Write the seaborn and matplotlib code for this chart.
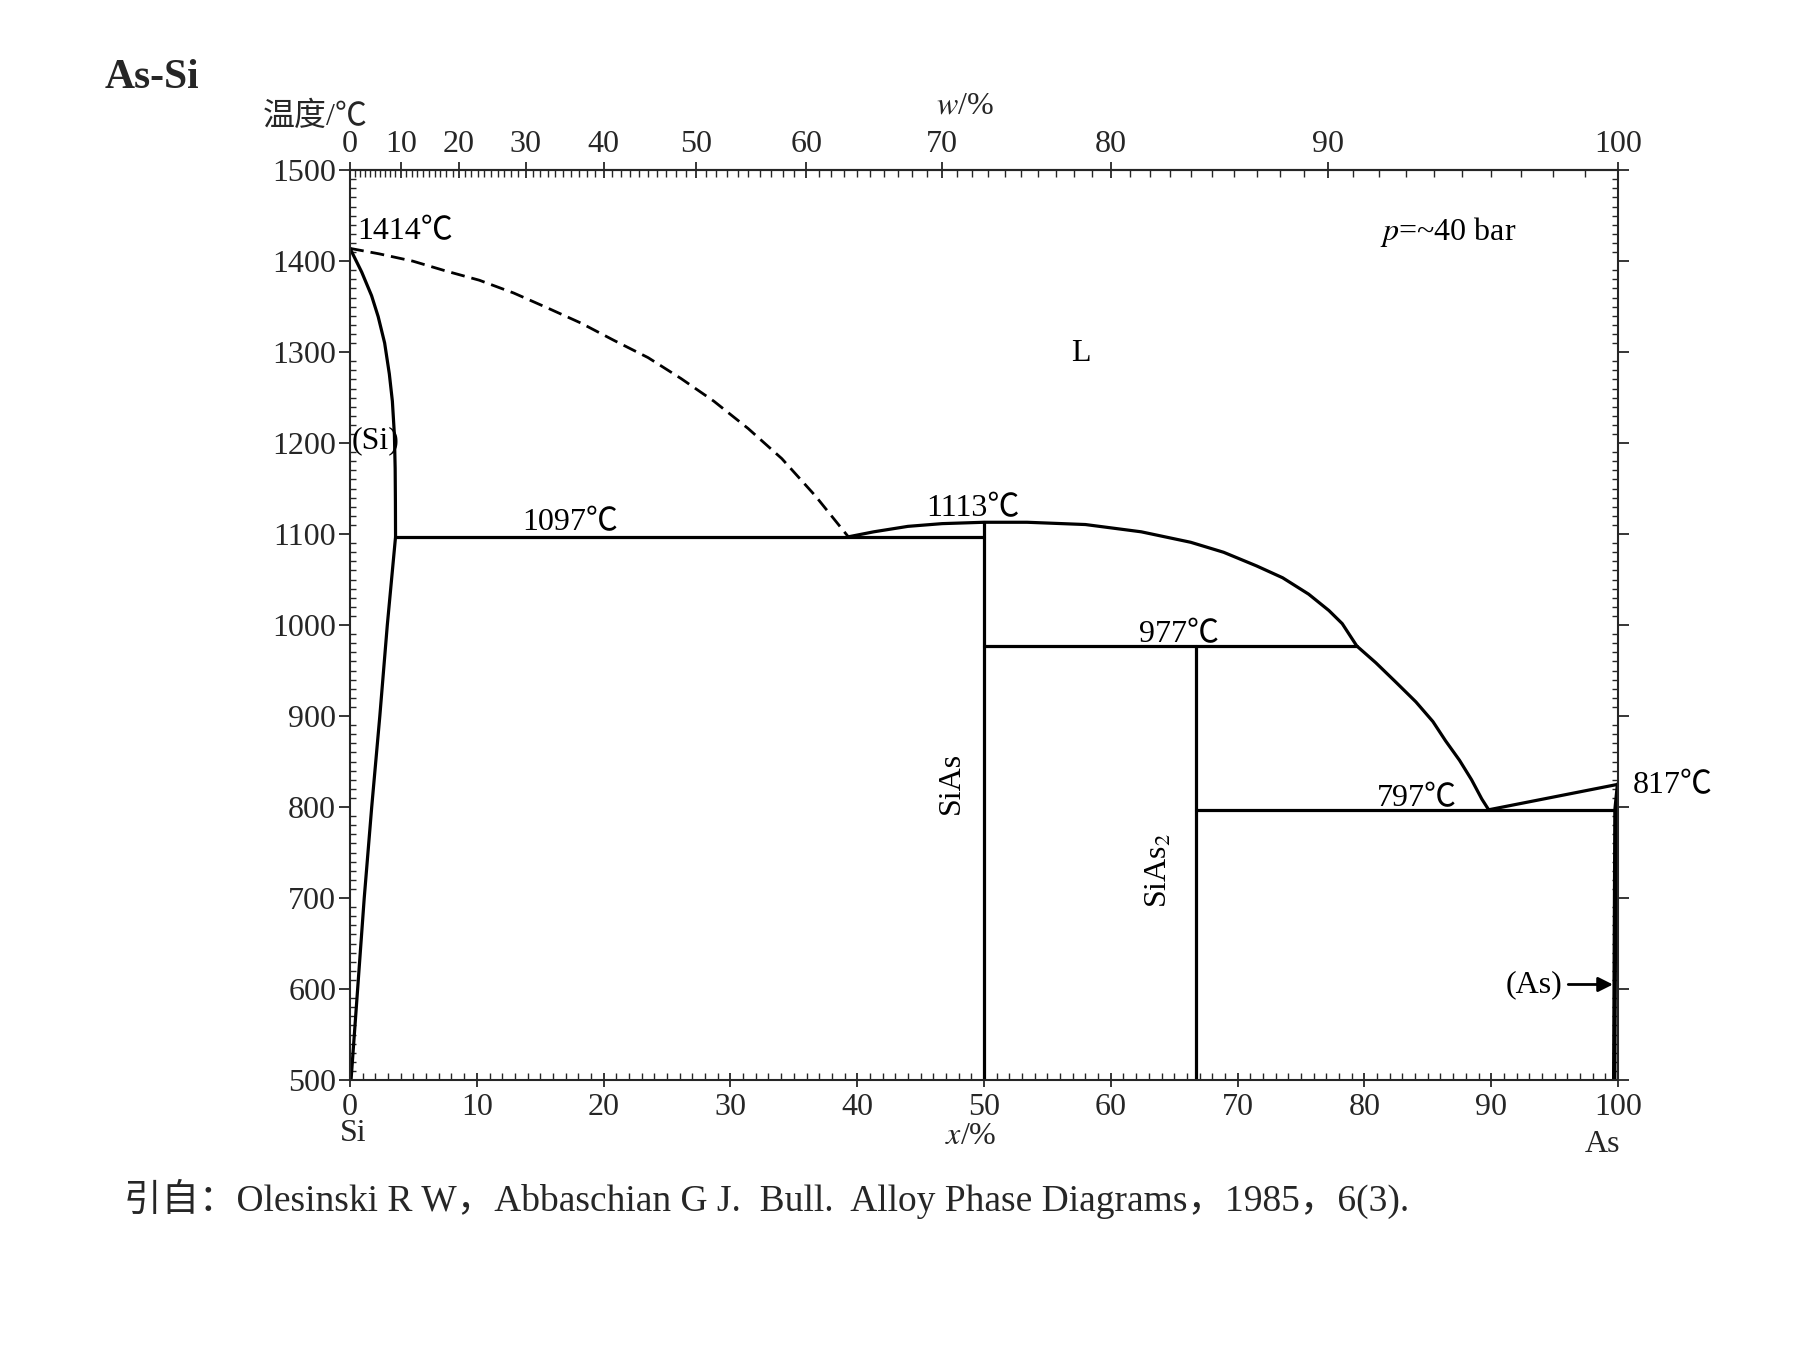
import numpy as np
import pandas as pd
import matplotlib
matplotlib.use('Agg')
import matplotlib.pyplot as plt
from matplotlib.ticker import MultipleLocator, FixedLocator
import seaborn as sns

# composition x = at.% As, temperature in deg C
si_solidus_x = [0, 0.92, 1.7, 2.22, 2.73, 3.1, 3.34, 3.5, 3.56, 3.58, 3.59]
si_solidus_t = [1414, 1388, 1362, 1339, 1310, 1276, 1246, 1209, 1172, 1135, 1097]
si_solvus_x = [3.59, 2.94, 2.35, 1.71, 1.12, 0.6, 0.08]
si_solvus_t = [1097, 1000, 900, 800, 700, 600, 500]
liq_dash_x = [0, 2.3, 4.95, 7.6, 10.2, 12.9, 15.5, 18.2, 20.8, 23.5, 26.1, 28.7, 31.4, 34.05,
              36.7, 39.3]
liq_dash_t = [1414, 1408, 1400, 1389, 1379, 1365, 1349, 1332, 1313, 1294, 1271, 1246, 1216, 1183,
              1142, 1097]
liq_x = [39.3, 41.3, 44.0, 46.7, 50, 53.4, 58.0, 62.4, 66.3, 68.9, 71.5, 73.55, 75.6, 77.2, 78.25,
         79.4, 80.9, 82.5, 84.06, 85.4, 86.4, 87.5, 88.45, 89.26, 89.8]
liq_t = [1097, 1102.5, 1108.5, 1111.5, 1113, 1113, 1110.5, 1102.5, 1091, 1080, 1065, 1052, 1034,
         1016, 1001.6, 977, 958.6, 937, 915.6, 894, 872.8, 851.4, 830, 808.8, 797]
as_liq_x = [89.8, 100]
as_liq_t = [797, 825]
as_solvus_x = [100, 99.8, 99.7]
as_solvus_t = [825, 797, 500]
eut1_x, eut1_t = [3.59, 50], [1097, 1097]
per_x, per_t = [50, 79.4], [977, 977]
eut2_x, eut2_t = [66.7, 99.8], [797, 797]
sias_x, sias_t = [50, 50], [500, 1113]
sias2_x, sias2_t = [66.7, 66.7], [500, 977]

y_ticks = list(range(500, 1501, 100))
x_ticks = list(range(0, 101, 10))
w_ticks = list(range(0, 101, 10))

M_AS, M_SI = 74.92, 28.086


def x2w(x):
    x = np.asarray(x, dtype=float)
    a = x * M_AS
    b = (100 - x) * M_SI
    with np.errstate(divide='ignore', invalid='ignore'):
        return 100 * a / (a + b)


def w2x(w):
    w = np.asarray(w, dtype=float)
    a = w / M_AS
    b = (100 - w) / M_SI
    with np.errstate(divide='ignore', invalid='ignore'):
        return 100 * a / (a + b)


segs = [
    ('si_solidus', si_solidus_x, si_solidus_t),
    ('si_solvus', si_solvus_x, si_solvus_t),
    ('liq', liq_x, liq_t),
    ('as_liq', as_liq_x, as_liq_t),
    ('eut1', eut1_x, eut1_t),
    ('per', per_x, per_t),
    ('eut2', eut2_x, eut2_t),
    ('sias', sias_x, sias_t),
    ('sias2', sias2_x, sias2_t),
]
rows = []
for name, xs, ts in segs:
    for x, t in zip(xs, ts):
        rows.append({'seg': name, 'x': x, 'T': t})
solid = pd.DataFrame(rows)
dashed = pd.DataFrame({'x': liq_dash_x, 'T': liq_dash_t})
as_solvus = pd.DataFrame({'x': as_solvus_x, 'T': as_solvus_t})

sns.set_theme(style='ticks')
plt.rcParams['font.family'] = ['Liberation Serif', 'Noto Sans CJK SC', 'DejaVu Sans']
plt.rcParams['mathtext.fontset'] = 'stix'
plt.rcParams['axes.linewidth'] = 1.5

fig = plt.figure(figsize=(17.95, 13.46), dpi=100)
ax = fig.add_axes([0.195, 0.1976, 0.7064, 0.676])

sns.lineplot(data=solid, x='x', y='T', units='seg', estimator=None, sort=False,
             color='black', lw=2.3, ax=ax)
sns.lineplot(data=dashed, x='x', y='T', estimator=None, sort=False,
             color='black', lw=2.0, linestyle=(0, (5, 2.5)), ax=ax)
sns.lineplot(data=as_solvus, x='x', y='T', estimator=None, sort=False,
             color='black', lw=3.2, ax=ax)

ax.set_xlim(0, 100)
ax.set_ylim(500, 1500)
ax.set_xlabel('')
ax.set_ylabel('')
ax.set_xticks(x_ticks)
ax.set_yticks(y_ticks)
ax.xaxis.set_minor_locator(MultipleLocator(1))
ax.yaxis.set_minor_locator(MultipleLocator(10))
ax.tick_params(axis='x', which='major', direction='inout', length=10, width=1.3,
               labelsize=23, pad=4, top=False)
ax.tick_params(axis='x', which='minor', direction='in', length=5, width=1.0, top=False)
ax.tick_params(axis='y', which='major', direction='out', length=8, width=1.3,
               labelsize=23, pad=2, right=True)
ax.tick_params(axis='y', which='minor', direction='in', length=4, width=1.0, right=True)

sec = ax.secondary_xaxis('top', functions=(x2w, w2x))
sec.xaxis.set_major_locator(FixedLocator(w_ticks))
sec.xaxis.set_minor_locator(FixedLocator([v for v in range(1, 100) if v % 10]))
sec.tick_params(which='major', direction='inout', length=12, width=1.3, labelsize=23, pad=2)
sec.tick_params(which='minor', direction='in', length=5, width=1.0)
sec.spines['top'].set_linewidth(1.5)

txt = dict(fontsize=23, color='black')
ax.text(0.6, 1432, '1414℃', ha='left', va='center', **txt)
ax.text(0.1, 1203, '(Si)', ha='left', va='center', **txt)
ax.text(17.4, 1113, '1097℃', ha='center', va='center', **txt)
ax.text(49.1, 1128, '1113℃', ha='center', va='center', **txt)
ax.text(65.4, 989, '977℃', ha='center', va='center', **txt)
ax.text(84.1, 809, '797℃', ha='center', va='center', **txt)
ax.text(101.2, 823, '817℃', ha='left', va='center', clip_on=False, **txt)
ax.text(47.4, 826, 'SiAs', ha='center', va='center', rotation=90, **txt)
ax.text(63.8, 730, 'SiAs$_2$', ha='center', va='center', rotation=90, **txt)
ax.text(57.6, 1299, 'L', ha='center', va='center', **txt)
ax.text(81.2, 1432, '$p$=~40 bar', ha='left', va='center', **txt)
ax.annotate('(As)', xy=(99.6, 605), xytext=(95.6, 605), ha='right', va='center',
            arrowprops=dict(arrowstyle='-|>', color='black', lw=2, mutation_scale=22,
                            shrinkA=2, shrinkB=0), **txt)

fig.text(0.0585, 0.942, 'As-Si', fontsize=30, fontweight='bold', ha='left', va='center')
fig.text(0.1465, 0.913, '温度/℃', fontsize=23, ha='left', va='center')
fig.text(0.5376, 0.921, '$w$/%', fontsize=23, ha='center', va='center')
fig.text(0.541, 0.156, '$x$/%', fontsize=23, ha='center', va='center')
fig.text(0.197, 0.158, 'Si', fontsize=23, ha='center', va='center')
fig.text(0.893, 0.1495, 'As', fontsize=23, ha='center', va='center')
fig.text(0.069, 0.109, '引自：Olesinski R W，Abbaschian G J.  Bull.  Alloy Phase Diagrams，1985，6(3).',
         fontsize=27, ha='left', va='center')

fig.savefig('out.png', dpi=100, facecolor='white')
